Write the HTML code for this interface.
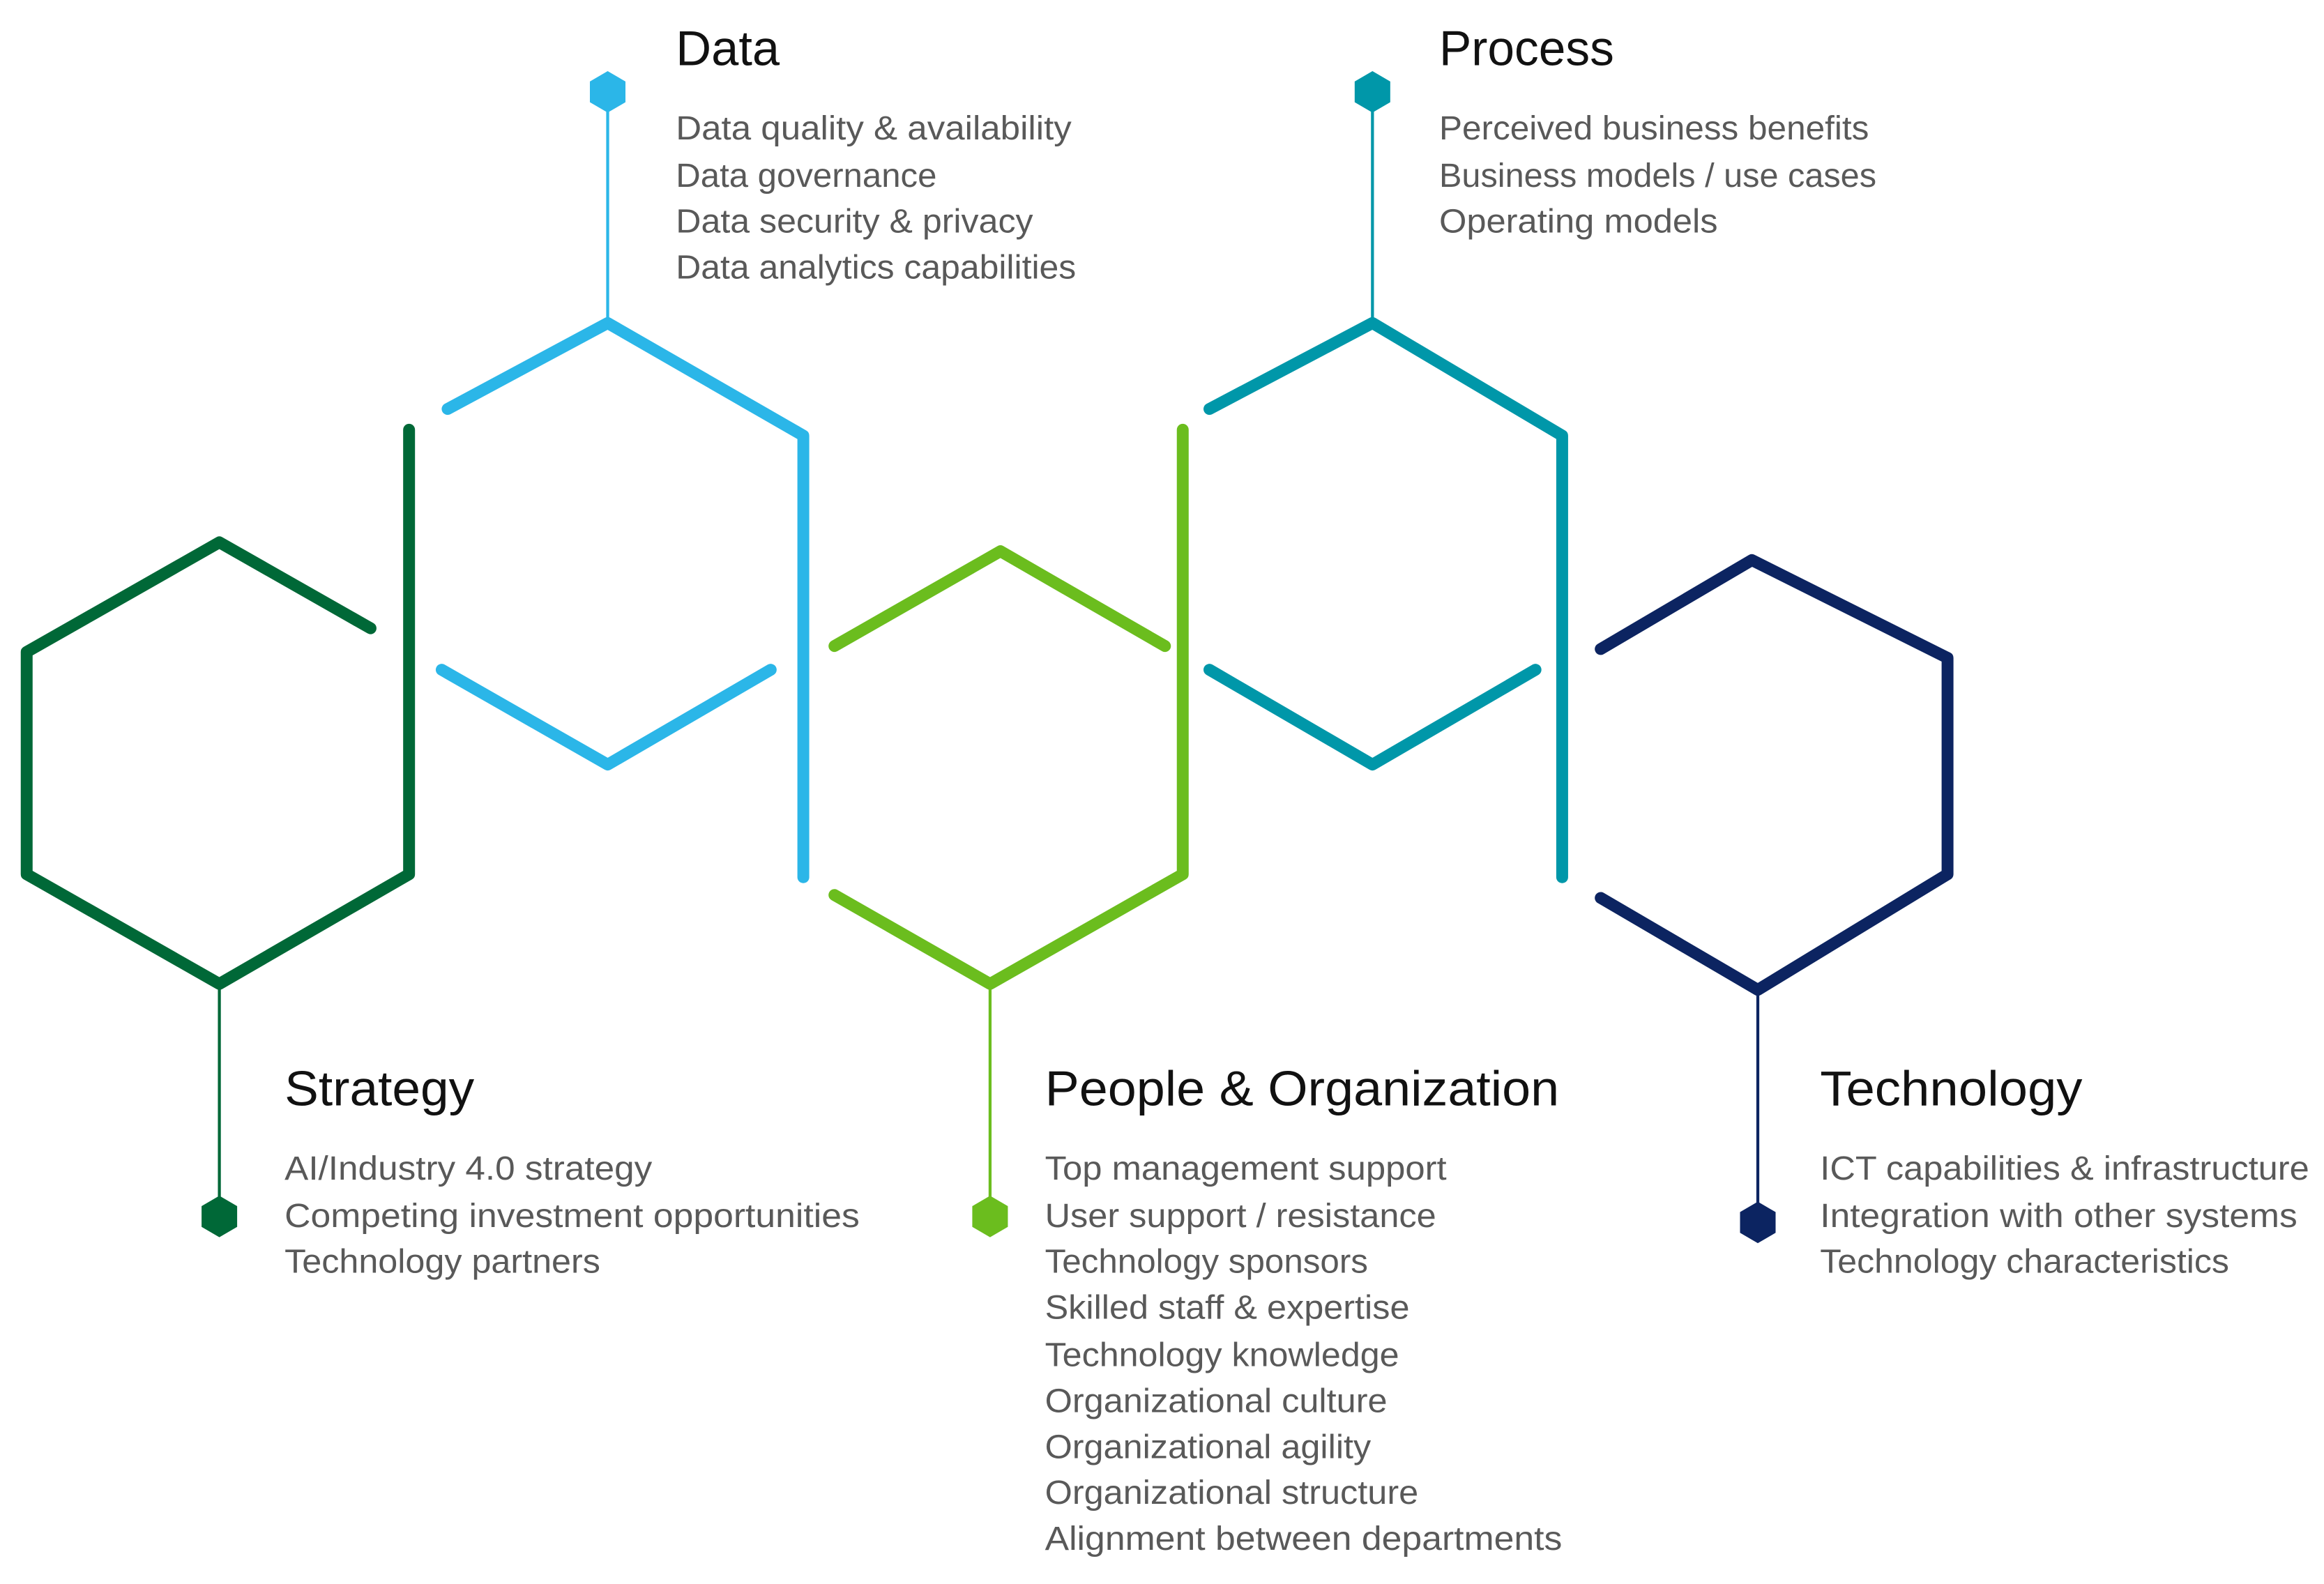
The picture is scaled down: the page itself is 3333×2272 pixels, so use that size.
<!DOCTYPE html>
<html><head><meta charset="utf-8"><style>
html,body{margin:0;padding:0;background:#fff;width:3333px;height:2272px;overflow:hidden}
svg{display:block}
.t{font-family:"Liberation Sans",sans-serif;font-size:33px;fill:#111}
.i{font-family:"Liberation Sans",sans-serif;font-size:22.5px;fill:#595959}
</style></head><body>
<svg width="3333" height="2272" viewBox="0 0 1568 1069" preserveAspectRatio="none" xmlns="http://www.w3.org/2000/svg">
<defs><polygon id="h" points="0,-14 12,-7 12,7 0,14 -12,7 -12,-7"/></defs>
<g fill="none" stroke-width="8" stroke-linecap="round" stroke-linejoin="round">
<polyline stroke="#006837" points="250,424 148,366 18,440 18,590 148,664 276,590 276,290"/>
<polyline stroke="#2bb6e8" points="302,276 410,218 542,294 542,592"/>
<polyline stroke="#2bb6e8" points="298,452 410,516 520,452"/>
<polyline stroke="#6bbd1e" points="563,436 675,372 786,436"/>
<polyline stroke="#6bbd1e" points="798,290 798,590 668,664 563,604"/>
<polyline stroke="#0097a9" points="816,276 926,218 1054,294 1054,592"/>
<polyline stroke="#0097a9" points="816,452 926,516 1036,452"/>
<polyline stroke="#0c2461" points="1080,438 1182,378 1314,444 1314,590 1186,668 1080,606"/>
</g>
<g stroke-width="2">
<line x1="148" y1="664" x2="148" y2="820" stroke="#006837"/>
<line x1="410" y1="218" x2="410" y2="62" stroke="#2bb6e8"/>
<line x1="668" y1="664" x2="668" y2="820" stroke="#6bbd1e"/>
<line x1="926" y1="218" x2="926" y2="62" stroke="#0097a9"/>
<line x1="1186" y1="668" x2="1186" y2="824" stroke="#0c2461"/>
</g>
<use href="#h" x="148" y="821" fill="#006837"/>
<use href="#h" x="410" y="62" fill="#2bb6e8"/>
<use href="#h" x="668" y="821" fill="#6bbd1e"/>
<use href="#h" x="926" y="62" fill="#0097a9"/>
<use href="#h" x="1186" y="825" fill="#0c2461"/>

<g lengthAdjust="spacingAndGlyphs">
<text class="t" x="456" y="44" textLength="70" lengthAdjust="spacingAndGlyphs">Data</text>
<text class="i" x="456" y="94" textLength="267" lengthAdjust="spacingAndGlyphs">Data quality &amp; availability</text>
<text class="i" x="456" y="126" textLength="176" lengthAdjust="spacingAndGlyphs">Data governance</text>
<text class="i" x="456" y="157" textLength="241" lengthAdjust="spacingAndGlyphs">Data security &amp; privacy</text>
<text class="i" x="456" y="188" textLength="270" lengthAdjust="spacingAndGlyphs">Data analytics capabilities</text>

<text class="t" x="971" y="44" textLength="118" lengthAdjust="spacingAndGlyphs">Process</text>
<text class="i" x="971" y="94" textLength="290" lengthAdjust="spacingAndGlyphs">Perceived business benefits</text>
<text class="i" x="971" y="126" textLength="295" lengthAdjust="spacingAndGlyphs">Business models / use cases</text>
<text class="i" x="971" y="157" textLength="188" lengthAdjust="spacingAndGlyphs">Operating models</text>

<text class="t" x="192" y="746" textLength="128" lengthAdjust="spacingAndGlyphs">Strategy</text>
<text class="i" x="192" y="796" textLength="248" lengthAdjust="spacingAndGlyphs">AI/Industry 4.0 strategy</text>
<text class="i" x="192" y="828" textLength="388" lengthAdjust="spacingAndGlyphs">Competing investment opportunities</text>
<text class="i" x="192" y="859" textLength="213" lengthAdjust="spacingAndGlyphs">Technology partners</text>

<text class="t" x="705" y="746" textLength="347" lengthAdjust="spacingAndGlyphs">People &amp; Organization</text>
<text class="i" x="705" y="796" textLength="271" lengthAdjust="spacingAndGlyphs">Top management support</text>
<text class="i" x="705" y="828" textLength="264" lengthAdjust="spacingAndGlyphs">User support / resistance</text>
<text class="i" x="705" y="859" textLength="218" lengthAdjust="spacingAndGlyphs">Technology sponsors</text>
<text class="i" x="705" y="890" textLength="246" lengthAdjust="spacingAndGlyphs">Skilled staff &amp; expertise</text>
<text class="i" x="705" y="922" textLength="239" lengthAdjust="spacingAndGlyphs">Technology knowledge</text>
<text class="i" x="705" y="953" textLength="231" lengthAdjust="spacingAndGlyphs">Organizational culture</text>
<text class="i" x="705" y="984" textLength="220" lengthAdjust="spacingAndGlyphs">Organizational agility</text>
<text class="i" x="705" y="1015" textLength="252" lengthAdjust="spacingAndGlyphs">Organizational structure</text>
<text class="i" x="705" y="1046" textLength="349" lengthAdjust="spacingAndGlyphs">Alignment between departments</text>

<text class="t" x="1228" y="746" textLength="177" lengthAdjust="spacingAndGlyphs">Technology</text>
<text class="i" x="1228" y="796" textLength="330" lengthAdjust="spacingAndGlyphs">ICT capabilities &amp; infrastructure</text>
<text class="i" x="1228" y="828" textLength="322" lengthAdjust="spacingAndGlyphs">Integration with other systems</text>
<text class="i" x="1228" y="859" textLength="276" lengthAdjust="spacingAndGlyphs">Technology characteristics</text>
</g>
</svg>
</body></html>
